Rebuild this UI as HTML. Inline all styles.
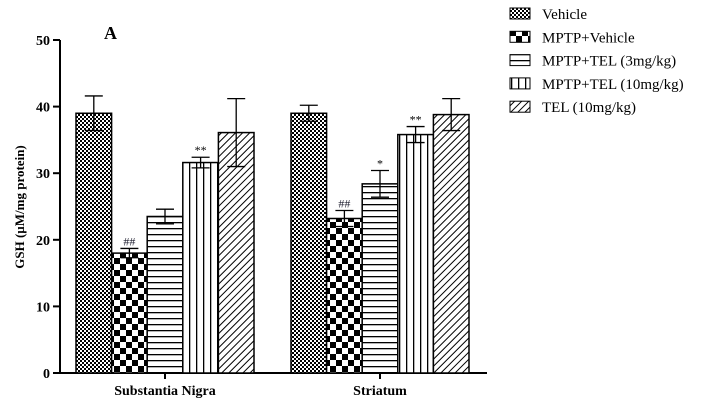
<!DOCTYPE html>
<html><head><meta charset="utf-8"><style>
html,body{margin:0;padding:0;background:#fff;width:713px;height:410px;overflow:hidden}
svg text{font-family:"Liberation Serif",serif}
</style></head><body>
<svg id="chart" width="713" height="410" xmlns="http://www.w3.org/2000/svg">
<defs>
<pattern id="p0" width="4" height="4" patternUnits="userSpaceOnUse"><rect width="4" height="4" fill="#fff"/><rect width="2" height="2" fill="#000"/><rect x="2" y="2" width="2" height="2" fill="#000"/></pattern>
<pattern id="p1" width="12" height="12" patternUnits="userSpaceOnUse"><rect width="12" height="12" fill="#fff"/><rect width="6" height="6" fill="#000"/><rect x="6" y="6" width="6" height="6" fill="#000"/></pattern>
<pattern id="p2" width="6" height="6" patternUnits="userSpaceOnUse"><rect width="6" height="6" fill="#fff"/><rect y="0" width="6" height="1.3" fill="#000"/></pattern>
<pattern id="p3" width="7" height="7" patternUnits="userSpaceOnUse"><rect width="7" height="7" fill="#fff"/><rect x="0" width="1.3" height="7" fill="#000"/></pattern>
<pattern id="p4" width="5" height="5" patternUnits="userSpaceOnUse" patternTransform="rotate(45)"><rect width="5" height="5" fill="#fff"/><rect width="1" height="5" fill="#000"/></pattern>
</defs>
<g id="plot"></g>
</svg>
<script>
const categories=["Substantia Nigra","Striatum"];
const groups=["Vehicle","MPTP+Vehicle","MPTP+TEL (3mg/kg)","MPTP+TEL (10mg/kg)","TEL (10mg/kg)"];
const snValues=[39,18,23.5,31.6,36.1];
const snErrors=[2.6,0.7,1.1,0.8,5.1];
const stValues=[39,23.2,28.4,35.8,38.8];
const stErrors=[1.2,1.2,2,1.2,2.4];
const snMarks=["","##","","**",""];
const stMarks=["","##","*","**",""];
const yTicks=[0,10,20,30,40,50];

const NS="http://www.w3.org/2000/svg";
const g=document.getElementById('plot');
function el(t,a,p){const e=document.createElementNS(NS,t);for(const k in a)e.setAttribute(k,a[k]);(p||g).appendChild(e);return e;}
const y0=373,y1=40,yMax=50;
const y=v=>y0-(v/yMax)*(y0-y1);
const centers=[165,380];
const bw=35.6;
const x=(ci,gi)=>centers[ci]-2.5*bw+gi*bw;

let ax=el('line',{x1:60,y1:y1,x2:60,y2:y0,stroke:'#000','stroke-width':2});

yTicks.forEach(t=>{
 el('line',{x1:53,x2:60,y1:y(t),y2:y(t),stroke:'#000','stroke-width':2});
 const tx=el('text',{x:50,y:y(t)+5,'text-anchor':'end','font-size':14,'font-weight':'bold'});
 tx.textContent=t;
 
});
let xa=el('line',{x1:53,y1:y0,x2:487,y2:y0,stroke:'#000','stroke-width':2});

categories.forEach((c,ci)=>{
 el('line',{x1:centers[ci],x2:centers[ci],y1:y0,y2:y0+6,stroke:'#000','stroke-width':2});
 const tx=el('text',{x:centers[ci],y:395,'text-anchor':'middle','font-size':14,'font-weight':'bold'});
 tx.textContent=c;
 
});
const yt=el('text',{x:0,y:0,transform:'translate(24,207) rotate(-90)','text-anchor':'middle','font-size':13,'font-weight':'bold'});
yt.textContent='GSH (µM/mg protein)';

const pl=el('text',{x:104,y:39,'font-size':18,'font-weight':'bold'});pl.textContent='A';


[[snValues,snErrors,snMarks],[stValues,stErrors,stMarks]].forEach(([vals,errs,marks],ci)=>{
 vals.forEach((v,gi)=>{
  const bx=x(ci,gi);
  const r=el('rect',{x:bx,y:y(v),width:bw,height:y0-y(v),fill:`url(#p${gi})`,stroke:'#000','stroke-width':1.5});
  
  const cx=bx+bw/2,e=errs[gi];
  const eg=el('g',{stroke:'#000','stroke-width':1.3});
  
  el('line',{x1:cx,x2:cx,y1:y(v+e),y2:y(v-e)},eg);
  el('line',{x1:cx-9,x2:cx+9,y1:y(v+e),y2:y(v+e)},eg);
  el('line',{x1:cx-9,x2:cx+9,y1:y(v-e),y2:y(v-e)},eg);
  if(marks[gi]){
   const m=el('text',{x:cx,y:y(v+e)-3,'text-anchor':'middle','font-size':12,fill:marks[gi][0]=='#'?'#223':'#000'});
   m.textContent=marks[gi];
   
  }
 });
});

groups.forEach((name,gi)=>{
 const ly=14+gi*23.3;
 const lg=el('g',{});
 
 el('rect',{x:510,y:ly-6,width:20,height:11,fill:`url(#p${gi})`,stroke:'#000','stroke-width':1},lg);
 const t=el('text',{x:542,y:ly+5,'font-size':15},lg);t.textContent=name;
});
</script>
</body></html>
